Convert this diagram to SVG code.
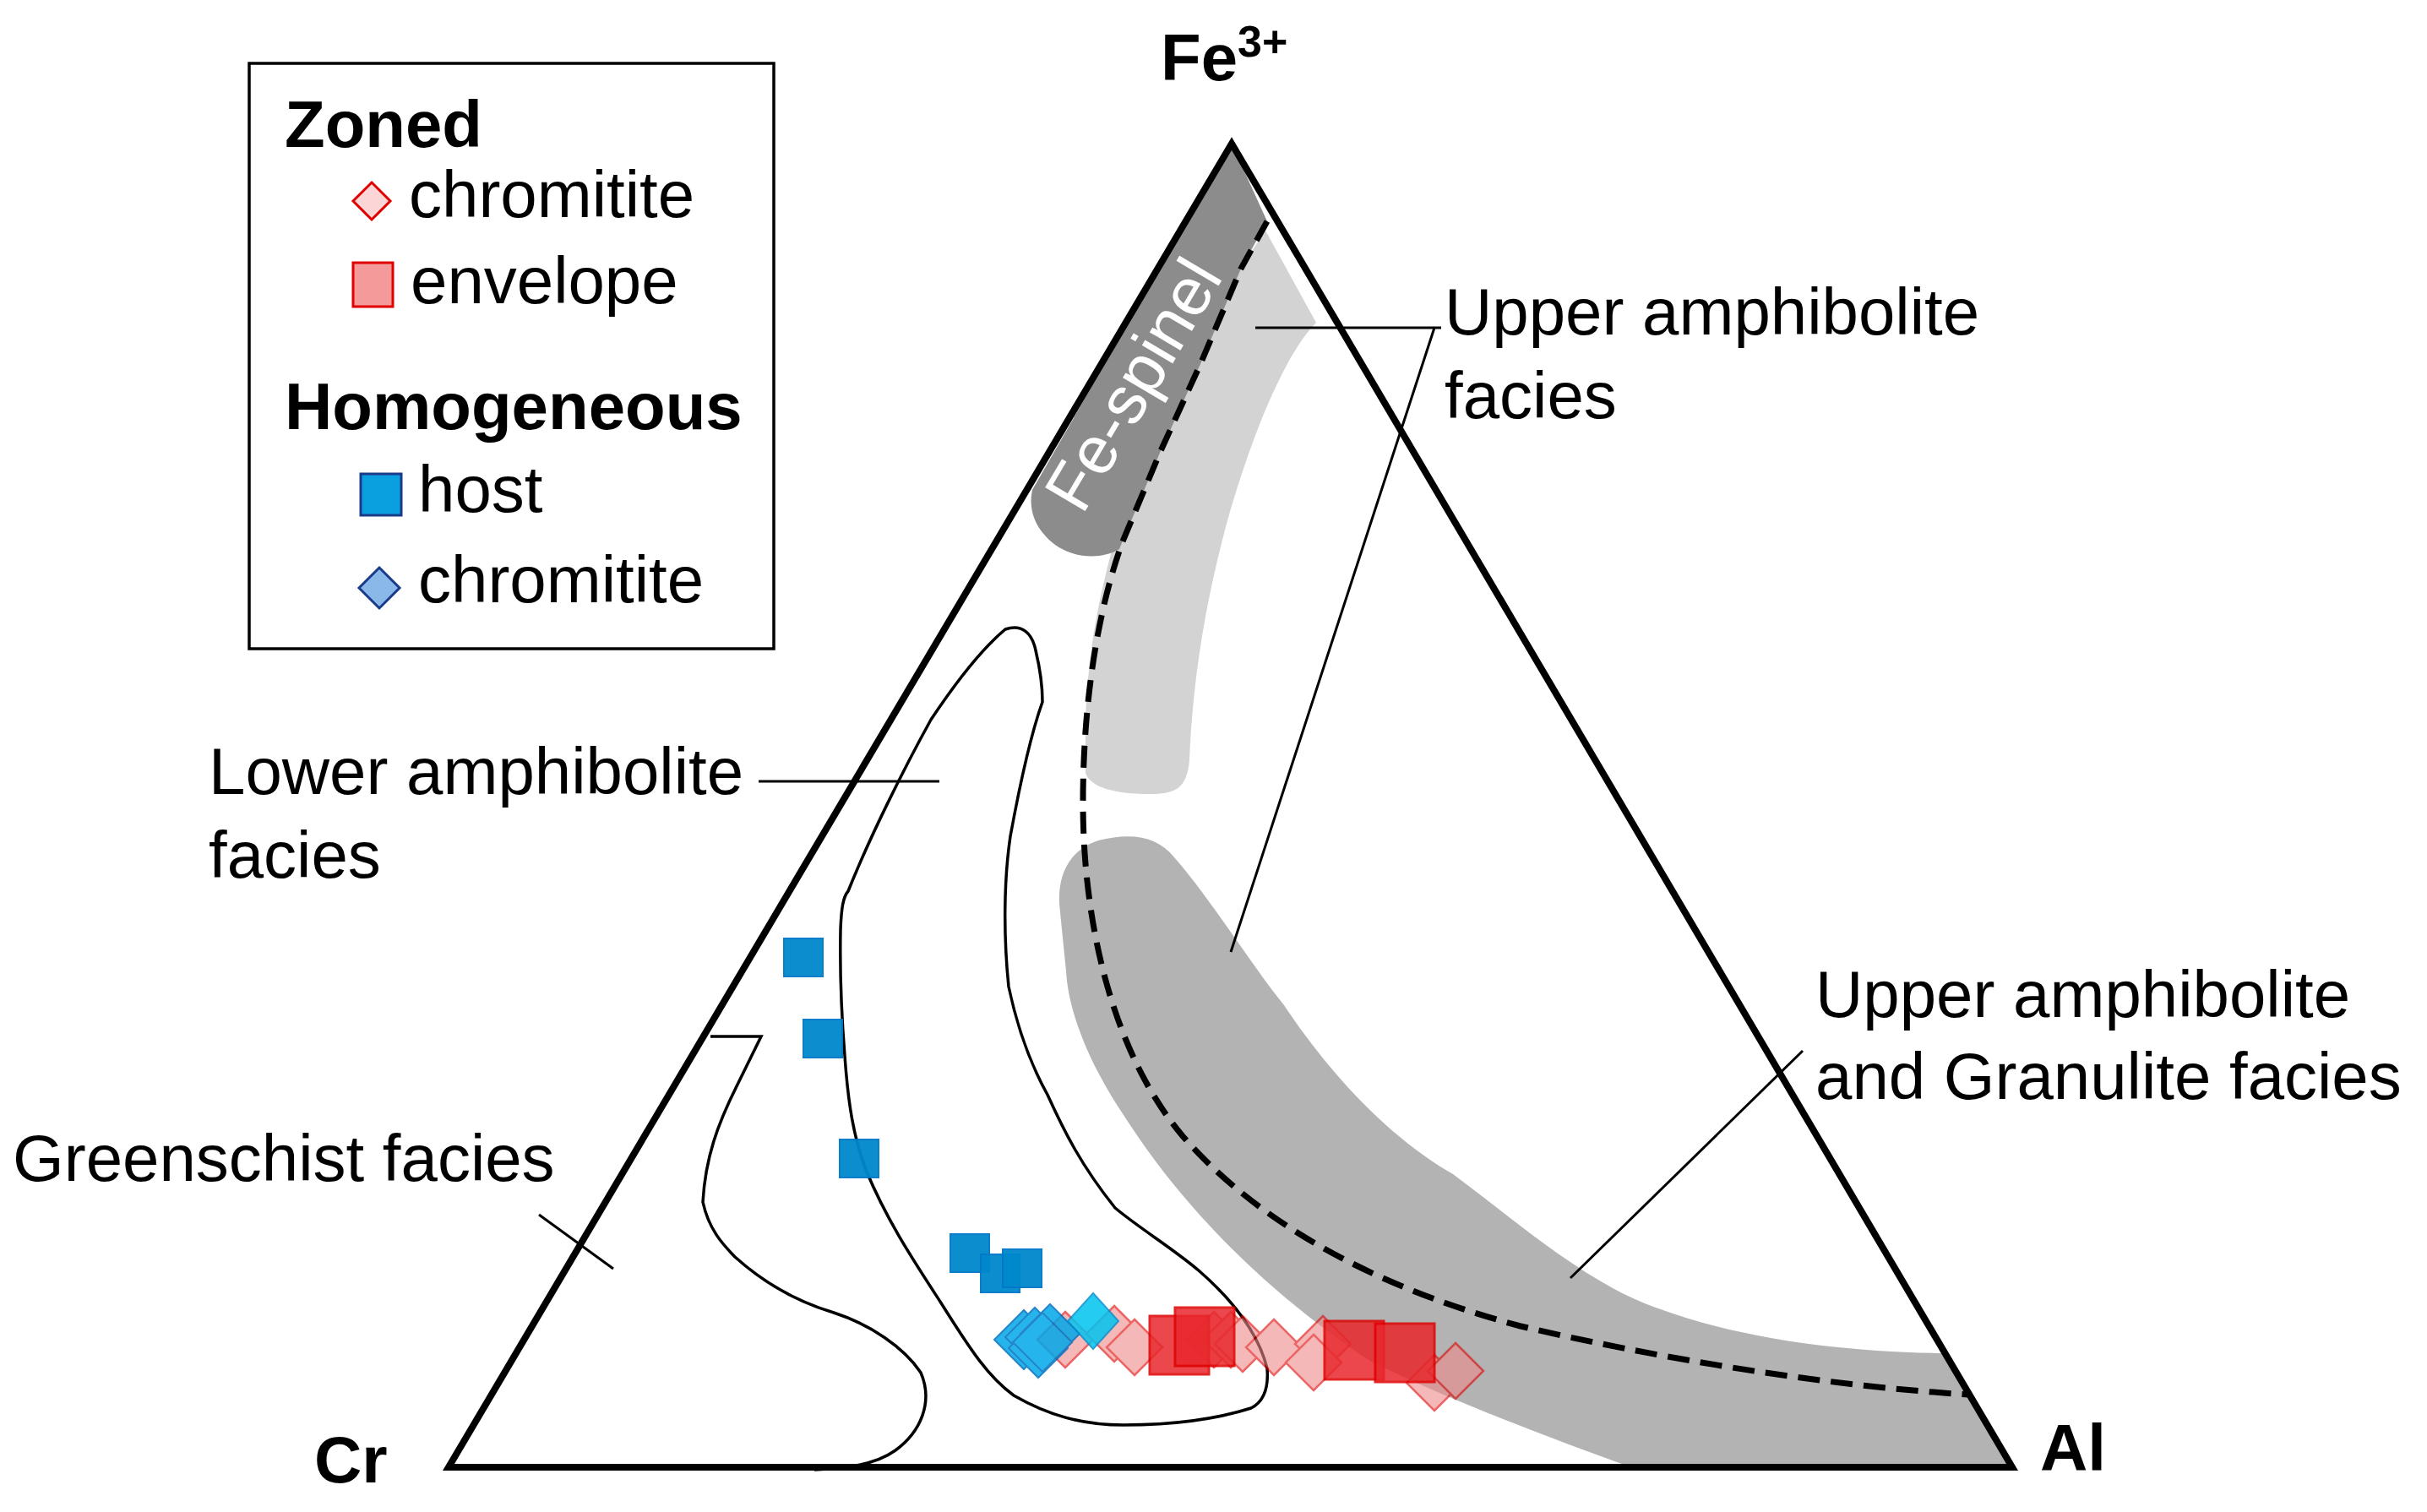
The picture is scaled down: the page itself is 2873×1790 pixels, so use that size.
<svg xmlns="http://www.w3.org/2000/svg" width="2873" height="1790" viewBox="0 0 2873 1790">
<style>
text{font-family:"Liberation Sans",Arial,sans-serif;fill:#000}
.lbl{font-size:78px}
.b{font-weight:bold}
.thin{fill:none;stroke:#000;stroke-width:3.5}
.lead{fill:none;stroke:#000;stroke-width:3}
.hs{fill:#0088cc;stroke:#0077c8;stroke-width:2;opacity:0.95}
.bd{fill:#00a8e8;stroke:#0070c0;stroke-width:2;opacity:0.85}
.rs{fill:#e8282d;stroke:#e00000;stroke-width:3;opacity:0.85}
.rd{fill:#f08a8a;stroke:#e00000;stroke-width:2.5;opacity:0.6}
</style>
<rect width="2873" height="1790" fill="#fff"/>
<g id="fields">
<path d="M1498,273 L1558,382 C1520,420 1480,520 1452,620 C1428,710 1412,800 1408,900 C1405,935 1390,940 1360,940 C1320,940 1290,932 1285,915 L1285,850 C1290,700 1340,560 1400,420 Z" fill="#d3d3d3"/>
<path d="M1300,995 C1340,985 1370,990 1390,1015 C1430,1060 1480,1140 1520,1190 C1580,1280 1650,1350 1720,1390 C1800,1450 1880,1520 1960,1548 C2060,1585 2180,1600 2298,1602 L2382,1737 L1931,1737 C1800,1690 1700,1650 1620,1610 C1500,1530 1400,1430 1330,1320 C1290,1260 1265,1200 1262,1150 L1254,1070 C1252,1030 1270,1005 1300,995 Z" fill="#b3b3b3"/>
<path d="M1458,170 L1500,262 L1469,318 L1421,431 L1373,536 L1325,650 C1300,665 1260,660 1238,635 C1222,618 1218,598 1222,580 Z" fill="#8c8c8c"/>
<g transform="translate(1341,455) rotate(-59.4)"><text x="0" y="28" text-anchor="middle" style="font-size:80px;fill:#fff">Fe-spinel</text></g>
<path class="thin" d="M841,1227 L901,1227 L872,1286 C850,1330 835,1370 832,1423 C840,1460 861,1478 870,1488 C900,1515 940,1540 987,1554 C1030,1568 1070,1595 1090,1625 C1105,1660 1090,1695 1060,1717 C1035,1735 1000,1738 964,1740"/>
<path class="thin" d="M1004,1055 C1030,990 1070,910 1102,852 C1130,810 1160,770 1190,745 C1210,738 1222,750 1226,770 C1232,795 1234,815 1234,831 C1220,870 1205,941 1196,990 C1188,1044 1188,1110 1194,1168 C1205,1220 1220,1260 1240,1296 C1260,1340 1280,1380 1320,1430 C1350,1455 1390,1479 1420,1505 C1460,1540 1490,1580 1500,1620 C1502,1645 1495,1660 1481,1667 C1440,1680 1390,1687 1330,1687 C1280,1687 1240,1675 1200,1652 C1170,1630 1150,1600 1113,1541 C1080,1490 1050,1445 1025,1385 C1010,1345 1004,1306 1000,1250 C996,1200 994,1150 995,1100 C996,1075 998,1062 1004,1055 Z"/>
<path fill="none" stroke="#000" stroke-width="7" stroke-dasharray="26,13" d="M1500,262 L1469,318 L1421,431 L1373,536 L1329,641 C1300,720 1282,830 1282,950 C1282,1100 1320,1250 1400,1345 C1500,1460 1650,1530 1800,1570 C1950,1605 2150,1640 2330,1651"/>
</g>
<g id="triangle"><path d="M1458,170 L2382,1737 L531,1737 Z" fill="none" stroke="#000" stroke-width="8" stroke-linejoin="miter"/></g>
<g id="data">
<rect class="hs" x="928" y="1111" width="46" height="45"/>
<rect class="hs" x="951" y="1207" width="46" height="45"/>
<rect class="hs" x="994" y="1349" width="46" height="45"/>
<rect class="hs" x="1125" y="1461" width="46" height="45"/>
<rect class="hs" x="1161" y="1485" width="46" height="45"/>
<rect class="hs" x="1187" y="1479" width="46" height="45"/>
<g class="rd">
<path d="M1261,1553 l33,33 l-33,33 l-33,-33 Z"/>
<path d="M1319,1546 l33,33 l-33,33 l-33,-33 Z"/>
<path d="M1343,1562 l33,33 l-33,33 l-33,-33 Z"/>
<path d="M1437,1553 l33,33 l-33,33 l-33,-33 Z"/>
<path d="M1457,1553 l33,33 l-33,33 l-33,-33 Z"/>
<path d="M1471,1558 l33,33 l-33,33 l-33,-33 Z"/>
<path d="M1508,1562 l33,33 l-33,33 l-33,-33 Z"/>
<path d="M1566,1558 l33,33 l-33,33 l-33,-33 Z"/>
<path d="M1555,1580 l33,33 l-33,33 l-33,-33 Z"/>
<path d="M1698,1604 l33,33 l-33,33 l-33,-33 Z"/>
<path d="M1723,1590 l33,33 l-33,33 l-33,-33 Z"/>
</g>
<rect class="rs" x="1361" y="1558" width="70" height="69"/>
<rect class="rs" x="1391" y="1548" width="70" height="69"/>
<rect class="rs" x="1568" y="1564" width="70" height="69"/>
<rect class="rs" x="1628" y="1567" width="70" height="69"/>
<g class="bd">
<path d="M1212,1551 l35,35 l-35,35 l-35,-35 Z"/>
<path d="M1225,1548 l35,35 l-35,35 l-35,-35 Z"/>
<path d="M1243,1544 l35,35 l-35,35 l-35,-35 Z"/>
<path d="M1229,1561 l35,35 l-35,35 l-35,-35 Z"/>
<path d="M1234,1554 l35,35 l-35,35 l-35,-35 Z"/>
</g>
<path d="M1294,1531 l30,33 l-30,33 l-30,-33 Z" fill="#00c4f0" stroke="#0090d0" stroke-width="2" opacity="0.85"/>
</g>
<g id="legend">
<rect x="295" y="75" width="621" height="693" fill="none" stroke="#000" stroke-width="3.5"/>
<text x="337" y="174" class="lbl b">Zoned</text>
<path d="M440,216 l22,22 l-22,22 l-22,-22 Z" fill="#fcd6d6" stroke="#e00000" stroke-width="3"/>
<text x="484" y="257" class="lbl">chromitite</text>
<rect x="418" y="311" width="47" height="52" fill="#f59a9a" stroke="#e00000" stroke-width="3"/>
<text x="486" y="359" class="lbl">envelope</text>
<text x="337" y="508" class="lbl b">Homogeneous</text>
<rect x="427" y="561" width="48" height="49" fill="#0aa0e0" stroke="#1a3a8a" stroke-width="3"/>
<text x="495" y="606" class="lbl">host</text>
<path d="M449,672 l24,24 l-24,24 l-24,-24 Z" fill="#8ab8e8" stroke="#1a3a8a" stroke-width="3"/>
<text x="495" y="713" class="lbl">chromitite</text>
</g>
<g id="labels">
<text x="1374" y="95" class="lbl b">Fe<tspan dy="-28" style="font-size:52px">3+</tspan></text>
<text x="372" y="1755" class="lbl b">Cr</text>
<text x="2415" y="1741" class="lbl b">Al</text>
<text x="1710" y="396" class="lbl">Upper amphibolite</text>
<text x="1710" y="495" class="lbl">facies</text>
<text x="247" y="940" class="lbl">Lower amphibolite</text>
<text x="247" y="1039" class="lbl">facies</text>
<text x="15" y="1398" class="lbl">Greenschist facies</text>
<text x="2149" y="1204" class="lbl">Upper amphibolite</text>
<text x="2149" y="1301" class="lbl">and Granulite facies</text>
</g>
<g id="connectors">
<path class="lead" d="M1486,388 L1706,388 M1698,388 L1457,1127"/>
<path class="lead" d="M898,925 L1112,925"/>
<path class="lead" d="M638,1438 L726,1502"/>
<path class="lead" d="M2134,1244 L1859,1513"/>
</g>
</svg>
